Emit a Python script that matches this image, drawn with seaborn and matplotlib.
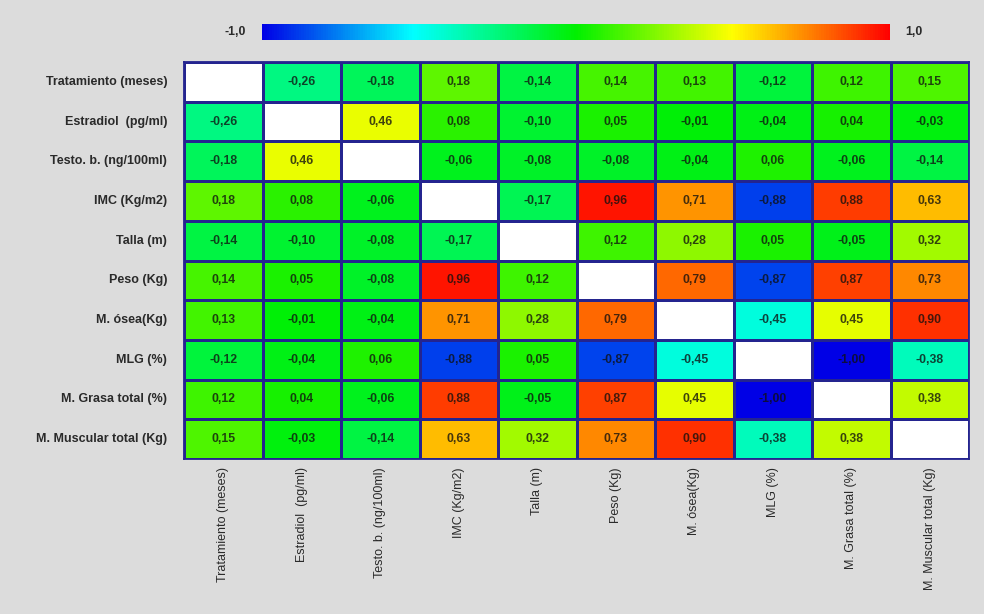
import numpy as np
import pandas as pd
import matplotlib
matplotlib.use("Agg")
import matplotlib.pyplot as plt
import seaborn as sns
from matplotlib.colors import LinearSegmentedColormap, ListedColormap
from matplotlib.colorbar import ColorbarBase
from matplotlib.colors import Normalize

row_labels = ["Tratamiento (meses)", "Estradiol  (pg/ml)", "Testo. b. (ng/100ml)",
              "IMC (Kg/m2)", "Talla (m)", "Peso (Kg)", "M. ósea(Kg)", "MLG (%)",
              "M. Grasa total (%)", "M. Muscular total (Kg)"]
col_labels = row_labels

r_tratamiento = [np.nan, -0.26, -0.18, 0.18, -0.14, 0.14, 0.13, -0.12, 0.12, 0.15]
r_estradiol   = [-0.26, np.nan, 0.46, 0.08, -0.10, 0.05, -0.01, -0.04, 0.04, -0.03]
r_testo       = [-0.18, 0.46, np.nan, -0.06, -0.08, -0.08, -0.04, 0.06, -0.06, -0.14]
r_imc         = [0.18, 0.08, -0.06, np.nan, -0.17, 0.96, 0.71, -0.88, 0.88, 0.63]
r_talla       = [-0.14, -0.10, -0.08, -0.17, np.nan, 0.12, 0.28, 0.05, -0.05, 0.32]
r_peso        = [0.14, 0.05, -0.08, 0.96, 0.12, np.nan, 0.79, -0.87, 0.87, 0.73]
r_osea        = [0.13, -0.01, -0.04, 0.71, 0.28, 0.79, np.nan, -0.45, 0.45, 0.90]
r_mlg         = [-0.12, -0.04, 0.06, -0.88, 0.05, -0.87, -0.45, np.nan, -1.00, -0.38]
r_grasa       = [0.12, 0.04, -0.06, 0.88, -0.05, 0.87, 0.45, -1.00, np.nan, 0.38]
r_muscular    = [0.15, -0.03, -0.14, 0.63, 0.32, 0.73, 0.90, -0.38, 0.38, np.nan]

corr = pd.DataFrame([r_tratamiento, r_estradiol, r_testo, r_imc, r_talla,
                     r_peso, r_osea, r_mlg, r_grasa, r_muscular],
                    index=row_labels, columns=col_labels)

bar_min_label = "-1,0"
bar_max_label = "1,0"

sns.set_theme(style="white")
plt.rcParams["font.family"] = ["Liberation Sans", "DejaVu Sans"]

bg = "#dcdcdc"
cmap = LinearSegmentedColormap.from_list(
    "rainbow_corr",
    [(0.0, "#0000e6"), (0.24, "#00ffff"), (0.5, "#00f000"),
     (0.75, "#ffff00"), (1.0, "#ff0000")])

fig = plt.figure(figsize=(9.84, 6.14), dpi=100, facecolor=bg)
ax = fig.add_axes([184 / 984, 1 - 459 / 614, (969 - 184) / 984, (459 - 62) / 614])

diag = np.eye(len(corr), dtype=bool)
annot = corr.map(lambda v: "" if np.isnan(v) else f"{v:.2f}".replace(".", ","))
line_col = "#24248f"

sns.heatmap(corr, mask=diag, cmap=cmap, vmin=-1, vmax=1, cbar=False,
            annot=annot.values, fmt="", linewidths=1.0, linecolor=line_col,
            annot_kws={"fontsize": 8.8, "fontweight": "bold", "color": "#101010", "alpha": 0.78},
            ax=ax)
sns.heatmap(pd.DataFrame(np.zeros(corr.shape), index=row_labels, columns=col_labels),
            mask=~diag, cmap=ListedColormap(["white"]), cbar=False,
            linewidths=1.0, linecolor=line_col, ax=ax)

for side in ["top", "bottom", "left", "right"]:
    ax.spines[side].set_visible(True)
    ax.spines[side].set_color(line_col)
    ax.spines[side].set_linewidth(1.3)

ax.set_facecolor("white")
ax.tick_params(length=0)
ax.set_yticklabels(row_labels, rotation=0, fontsize=9, fontweight="bold", color="#2a2a2a")
ax.set_xticklabels(col_labels, rotation=90, fontsize=9, color="#2a2a2a", va="top")
ax.tick_params(axis="y", pad=12)
ax.tick_params(axis="x", pad=6)
ax.set_xlabel("")
ax.set_ylabel("")

# horizontal colour scale above the matrix
cax = fig.add_axes([262 / 984, 1 - 40 / 614, (890 - 262) / 984, 16 / 614])
ColorbarBase(cax, cmap=cmap, norm=Normalize(-1, 1), orientation="horizontal")
cax.set_xticks([])
cax.set_yticks([])
for s in cax.spines.values():
    s.set_visible(False)
fig.text(246 / 984, 1 - 32 / 614, bar_min_label, ha="right", va="center",
         fontsize=8.8, fontweight="bold", color="#2a2a2a")
fig.text(905 / 984, 1 - 32 / 614, bar_max_label, ha="left", va="center",
         fontsize=8.8, fontweight="bold", color="#2a2a2a")

fig.savefig("out.png", dpi=100, facecolor=bg)
